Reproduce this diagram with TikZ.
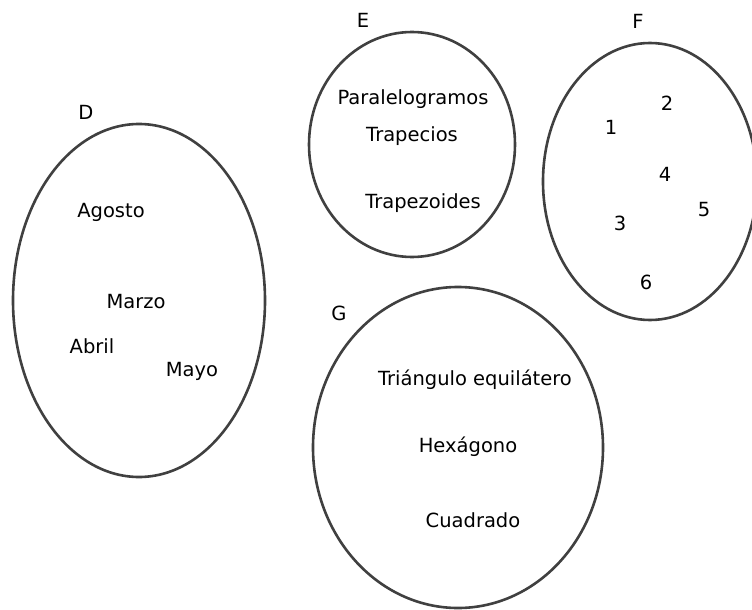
\documentclass[tikz,border=0pt]{standalone}
\usepackage{fontspec}
\setmainfont{DejaVu Sans}
\usetikzlibrary{shapes.geometric}

\begin{document}
\begin{tikzpicture}[x=1pt, y=-1pt, font=\fontsize{19.5}{22}\selectfont]
    \useasboundingbox (0,0) rectangle (752,610);
    \clip (0,0) rectangle (752,610);
    % the four sets
    \node[draw=black!75, line width=2.6pt, ellipse, inner sep=0pt,
      minimum width=252pt, minimum height=353pt] (setD) at (139,300.5) {};
    \node[draw=black!75, line width=2.6pt, ellipse, inner sep=0pt,
      minimum width=206pt, minimum height=225pt] (setE) at (412,144.5) {};
    \node[draw=black!75, line width=2.6pt, ellipse, inner sep=0pt,
      minimum width=214pt, minimum height=277pt] (setF) at (650,181.5) {};
    \node[draw=black!75, line width=2.6pt, ellipse, inner sep=0pt,
      minimum width=290pt, minimum height=321pt] (setG) at (458,447.5) {};
    % set names
    \node (nameD) at (86,112) {D};
    \node (nameE) at (363,20) {E};
    \node (nameF) at (638,21) {F};
    \node (nameG) at (339,313) {G};
    % D
    \node (agosto) at (111,212) {Agosto};
    \node (marzo) at (136,302) {Marzo};
    \node (abril) at (92,346) {Abril};
    \node (mayo) at (192,371) {Mayo};
    % E
    \node (paral) at (413,99) {Paralelogramos};
    \node (trapecios) at (412,136) {Trapecios};
    \node (trapezoides) at (423,203) {Trapezoides};
    % F
    \node (uno) at (611,127) {1};
    \node (dos) at (667,103) {2};
    \node (cuatro) at (665,174) {4};
    \node (cinco) at (704,210) {5};
    \node (tres) at (620,223) {3};
    \node (seis) at (646,282) {6};
    % G
    \node (triangulo) at (475,380) {Triángulo equilátero};
    \node (hexagono) at (468,447) {Hexágono};
    \node (cuadrado) at (473,520) {Cuadrado};
  \end{tikzpicture}
\end{document}
